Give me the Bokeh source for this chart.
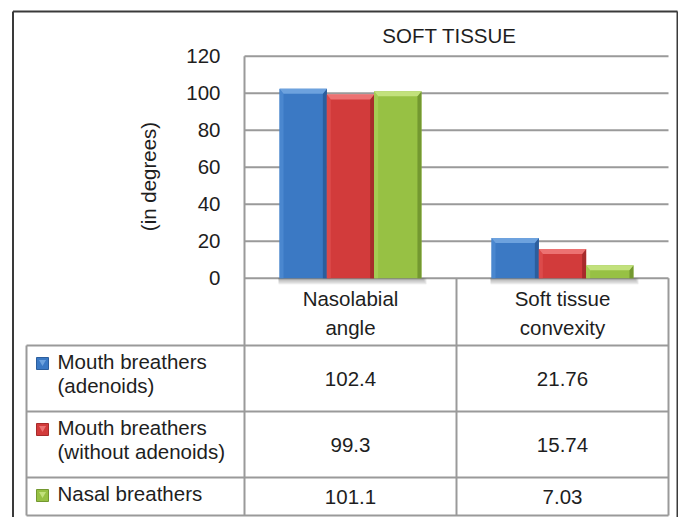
import math
from bokeh.plotting import figure
from bokeh.models import Range1d
from bokeh.core.properties import value
from bokeh.embed import file_html
from bokeh.resources import INLINE

# ---------------- data ----------------
chart_title = "SOFT TISSUE"
y_axis_label = "(in degrees)"
categories = ["Nasolabial\nangle", "Soft tissue\nconvexity"]
series_names = ["Mouth breathers\n(adenoids)",
                "Mouth breathers\n(without adenoids)",
                "Nasal breathers"]
mouth_adenoids = [102.4, 21.76]
mouth_without_adenoids = [99.3, 15.74]
nasal_breathers = [101.1, 7.03]
series_values = [mouth_adenoids, mouth_without_adenoids, nasal_breathers]
y_ticks = [0, 20, 40, 60, 80, 100, 120]
y_tick_labels = ["0", "20", "40", "60", "80", "100", "120"]

# ---------------- styles ----------------
FONT = value("Liberation Sans")
FSIZE = value("20.5px")
TXT = "#1e1e1e"
GRID = "#9a9a9a"
BORDER = "#3a3a3a"
palettes = [
    dict(face="#3b79c4", top="#6da2de", left="#4a87cf", right="#2c5e9d"),
    dict(face="#d23b3b", top="#ec7272", left="#dc4a4a", right="#a72b2b"),
    dict(face="#97c144", top="#c2e17c", left="#a5cb54", right="#739830"),
]

# ---------------- layout (page pixels) ----------------
W, H = 678, 517
PAGE_L, PAGE_T = 0, 0
X0_PAGE, PX_PER_X = 244.0, 212.0     # category axis origin / width of one category
Y0_PAGE, PX_PER_Y = 277.7, 1.85      # y=0 position / pixels per degree


def dx(px):
    return (px - X0_PAGE) / PX_PER_X


def dy(py):
    return (Y0_PAGE - py) / PX_PER_Y


p = figure(width=W, height=H, output_backend="svg", toolbar_location=None,
           x_range=Range1d(dx(PAGE_L), dx(PAGE_L + W)),
           y_range=Range1d(dy(PAGE_T + H), dy(PAGE_T)),
           x_axis_type=None, y_axis_type=None, min_border=0,
           outline_line_color=None, background_fill_color="white",
           border_fill_color="white")
p.xgrid.visible = False
p.ygrid.visible = False

n_cat = len(categories)
n_ser = len(series_names)
BAR_W = 47.3 / PX_PER_X
EX = 4.0 / PX_PER_X
TY = 5.0 / PX_PER_Y

# grid lines (chart area)
p.segment(x0=[0] * len(y_ticks), x1=[n_cat] * len(y_ticks), y0=y_ticks, y1=y_ticks,
          line_color=GRID, line_width=2)

# bar shadows
for k in range(4):
    lefts, rights = [], []
    for j in range(n_cat):
        c = j + 0.5
        lefts.append(c - n_ser / 2 * BAR_W - 1 / PX_PER_X)
        rights.append(c + n_ser / 2 * BAR_W + (2 + k) / PX_PER_X)
    p.quad(left=lefts, right=rights, top=[0] * n_cat,
           bottom=[-(1.5 * (k + 1)) / PX_PER_Y] * n_cat,
           fill_color="#555555", fill_alpha=0.13, line_color=None)

# bars with bevels
for i, vals in enumerate(series_values):
    pal = palettes[i]
    xs = [j + 0.5 + (i - (n_ser - 1) / 2) * BAR_W for j in range(n_cat)]
    p.vbar(x=xs, top=vals, bottom=0, width=BAR_W, fill_color=pal["face"],
           line_color=None)
    top_xs, top_ys, l_xs, l_ys, r_xs, r_ys = [], [], [], [], [], []
    for x, v in zip(xs, vals):
        l, r = x - BAR_W / 2, x + BAR_W / 2
        top_xs.append([l, r, r - EX, l + EX])
        top_ys.append([v, v, v - TY, v - TY])
        l_xs.append([l, l, l + EX, l + EX])
        l_ys.append([0, v, v - TY, 0])
        r_xs.append([r, r, r - EX, r - EX])
        r_ys.append([0, v, v - TY, 0])
    p.patches(xs=l_xs, ys=l_ys, fill_color=pal["left"], line_color=None)
    p.patches(xs=r_xs, ys=r_ys, fill_color=pal["right"], line_color=None)
    p.patches(xs=top_xs, ys=top_ys, fill_color=pal["top"], line_color=None)

# data table lines
row_bounds = [345, 411, 477, 515]
p.segment(x0=[dx(26)] * len(row_bounds), x1=[n_cat] * len(row_bounds),
          y0=[dy(b) for b in row_bounds], y1=[dy(b) for b in row_bounds],
          line_color=GRID, line_width=2)
p.segment(x0=[dx(26)], x1=[dx(26)], y0=[dy(row_bounds[0])], y1=[dy(row_bounds[-1])],
          line_color=GRID, line_width=2)
p.segment(x0=[0], x1=[0], y0=[y_ticks[-1]], y1=[dy(row_bounds[-1])],
          line_color=GRID, line_width=2)
p.segment(x0=list(range(1, n_cat + 1)), x1=list(range(1, n_cat + 1)),
          y0=[0] * n_cat, y1=[dy(row_bounds[-1])] * n_cat,
          line_color=GRID, line_width=2)

# outer border
BL, BT, BR = 12.5, 11, 677
p.segment(x0=[dx(BL), dx(BL), dx(BR)], x1=[dx(BR), dx(BL), dx(BR)],
          y0=[dy(BT), dy(BT), dy(BT)], y1=[dy(BT), dy(PAGE_T + H), dy(PAGE_T + H)],
          line_color=BORDER, line_width=2)

# title
p.text(x=[dx(449)], y=[dy(35)], text=[chart_title], text_font=FONT,
       text_font_size=FSIZE, text_color=TXT, text_align="center",
       text_baseline="middle")

# y tick labels
p.text(x=[dx(220)] * len(y_ticks), y=y_ticks, text=y_tick_labels, text_font=FONT,
       text_font_size=FSIZE, text_color=TXT, text_align="right",
       text_baseline="middle")

# y axis title
p.text(x=[dx(148)], y=[dy(176)], text=[y_axis_label], angle=math.pi / 2,
       text_font=FONT, text_font_size=FSIZE, text_color=TXT,
       text_align="center", text_baseline="middle")

# category header cells
HEAD_LINES = [298, 327]
for j, cat in enumerate(categories):
    lines = cat.split("\n")
    p.text(x=[j + 0.5] * len(lines), y=[dy(HEAD_LINES[k]) for k in range(len(lines))],
           text=lines, text_font=FONT, text_font_size=FSIZE, text_color=TXT,
           text_align="center", text_baseline="middle")

# series rows: legend keys, names, values
LINE_GAP = 24
for i, name in enumerate(series_names):
    pal = palettes[i]
    top_b, bot_b = row_bounds[i], row_bounds[i + 1]
    center = (top_b + bot_b) / 2
    lines = name.split("\n")
    block_c = center - (5 if len(lines) > 1 else 3)
    line_ys = [block_c + (k - (len(lines) - 1) / 2) * LINE_GAP for k in range(len(lines))]
    p.text(x=[dx(57)] * len(lines), y=[dy(v) for v in line_ys], text=lines,
           text_font=FONT, text_font_size=FSIZE, text_color=TXT,
           text_align="left", text_baseline="middle")
    p.scatter(x=[dx(42)], y=[dy(line_ys[0] + 2)], marker="square", size=12,
              fill_color=pal["face"], line_color=pal["right"], line_width=1)
    p.scatter(x=[dx(42)], y=[dy(line_ys[0] + 0.5)], marker="inverted_triangle", size=7,
              fill_color=pal["top"], line_color=None)
    vals = series_values[i]
    p.text(x=[j + 0.5 for j in range(n_cat)], y=[dy(center)] * n_cat,
           text=[f"{v:g}" for v in vals], text_font=FONT, text_font_size=FSIZE,
           text_color=TXT, text_align="center", text_baseline="middle")

open("out.html", "w").write(file_html(p, INLINE))
